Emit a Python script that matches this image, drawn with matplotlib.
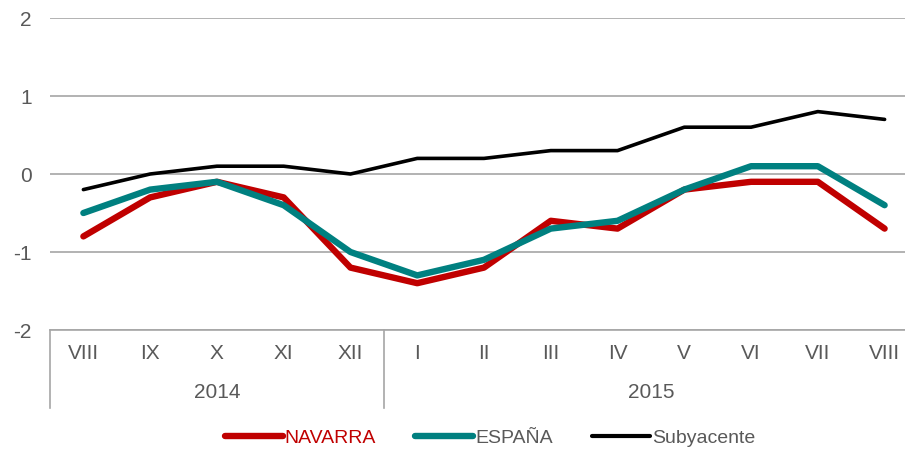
''' IPC Navarra vs España, variación mensual '''
import matplotlib.pyplot as plt
from matplotlib.lines import Line2D
import numpy as np

months = ['VIII', 'IX', 'X', 'XI', 'XII', 'I', 'II', 'III', 'IV', 'V', 'VI', 'VII', 'VIII']
years = ['2014', '2015']
year_span = [5, 8]  # number of months per year group
navarra = [-0.8, -0.3, -0.1, -0.3, -1.2, -1.4, -1.2, -0.6, -0.7, -0.2, -0.1, -0.1, -0.7]
espana = [-0.5, -0.2, -0.1, -0.4, -1.0, -1.3, -1.1, -0.7, -0.6, -0.2, 0.1, 0.1, -0.4]
subyacente = [-0.2, 0.0, 0.1, 0.1, 0.0, 0.2, 0.2, 0.3, 0.3, 0.6, 0.6, 0.8, 0.7]

plt.rcParams['font.family'] = ['Liberation Sans Narrow', 'Liberation Sans', 'DejaVu Sans']
plt.rcParams['axes.unicode_minus'] = False
grey = '#595959'
red = '#C00000'
teal = '#008080'

fig = plt.figure(figsize=(9.05, 4.49), dpi=100)
ax = fig.add_axes([50/905, 119/449, 868/905, 312/449])

x = np.arange(len(months))
ax.plot(x, navarra, color=red, lw=4.6, solid_capstyle='round', solid_joinstyle='round', zorder=3)
ax.plot(x, espana, color=teal, lw=4.6, solid_capstyle='round', solid_joinstyle='round', zorder=4)
ax.plot(x, subyacente, color='black', lw=2.6, solid_capstyle='round', solid_joinstyle='round', zorder=5)

ax.set_xlim(-0.5, len(months) - 0.5)
ax.set_ylim(-2, 2)
ax.set_yticks([-2, -1, 0, 1, 2])
ax.yaxis.grid(True, color='#A6A6A6', lw=1.2)
ax.set_axisbelow(True)
for s in ['top', 'right', 'left']:
    ax.spines[s].set_visible(False)
ax.spines['bottom'].set_color('#A6A6A6')
ax.spines['bottom'].set_linewidth(1.2)
ax.tick_params(axis='y', length=0, labelsize=15, labelcolor=grey, pad=13)
ax.set_xticks([])

# multi-level category axis
trans = ax.get_xaxis_transform()
for xi, m in zip(x, months):
    ax.text(xi, -0.075, m, transform=trans, ha='center', va='center', fontsize=15, color=grey)
edges = np.concatenate([[0], np.cumsum(year_span)]) - 0.5
for i, yr in enumerate(years):
    ax.text((edges[i] + edges[i + 1]) / 2, -0.2, yr, transform=trans, ha='center', va='center',
            fontsize=15, color=grey)
for e in edges:
    ax.plot([e, e], [0, -0.25], transform=trans, color='#A6A6A6', lw=1.2, clip_on=False)

handles = [Line2D([], [], color=red, lw=4.6, solid_capstyle='round'),
           Line2D([], [], color=teal, lw=4.6, solid_capstyle='round'),
           Line2D([], [], color='black', lw=3, solid_capstyle='round')]
leg = fig.legend(handles, ['NAVARRA', 'ESPAÑA', 'Subyacente'], loc='center',
                 bbox_to_anchor=(490/905, 1 - 438/449), ncol=3, frameon=False, fontsize=14,
                 handlelength=3.0, handletextpad=0.1, columnspacing=2.0)
for t, c in zip(leg.get_texts(), [red, grey, grey]):
    t.set_color(c)

fig.savefig('out.png', dpi=100)
